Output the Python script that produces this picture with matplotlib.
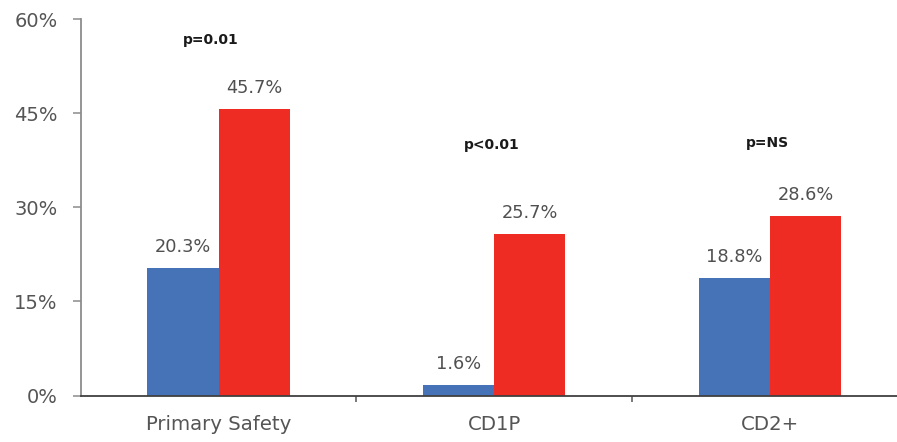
import matplotlib
matplotlib.use("Agg")
import matplotlib.pyplot as plt
import numpy as np

categories = ["Primary Safety", "CD1P", "CD2+"]
series_a = [20.3, 1.6, 18.8]
series_b = [45.7, 25.7, 28.6]
p_labels = ["p=0.01", "p<0.01", "p=NS"]
p_heights = [56.7, 40.0, 40.3]
yticks = [0, 15, 30, 45, 60]

plt.rcParams['font.family'] = ['DejaVu Sans']

W, H = 897, 442
fig = plt.figure(figsize=(W / 100, H / 100), dpi=100)
left_px, right_px, top_px, bot_px = 80.7, 908, 19, 395.5
ax = fig.add_axes([left_px / W, (H - bot_px) / H, (right_px - left_px) / W, (bot_px - top_px) / H])

x = np.arange(len(categories))
bw = 0.258
blue = "#4672b8"
red = "#ee2c24"
ax.bar(x - bw / 2, series_a, bw, color=blue, zorder=2)
ax.bar(x + bw / 2, series_b, bw, color=red, zorder=2)

txt_col = "#505050"
for xi, v in zip(x - bw / 2, series_a):
    ax.annotate(f"{v:.1f}%", (xi, v), xytext=(0, 11.5), textcoords="offset points",
                ha="center", va="baseline", fontsize=12.8, color=txt_col)
for xi, v in zip(x + bw / 2, series_b):
    ax.annotate(f"{v:.1f}%", (xi, v), xytext=(0, 11.5), textcoords="offset points",
                ha="center", va="baseline", fontsize=12.8, color=txt_col)
offs = [-0.027, -0.01, -0.01]
for xi, lab, h, o in zip(x, p_labels, p_heights, offs):
    ax.text(xi + o, h, lab, ha="center", va="center", fontsize=10,
            fontweight="bold", color="#1a1a1a")

ax.set_xlim(-0.5, 2.5)
ax.set_ylim(0, 60)
ax.set_yticks(yticks)
ax.set_yticklabels([f"{t}%" for t in yticks])
ax.set_xticks(x)
ax.set_xticklabels(categories)
ax.set_xticks([0.5, 1.5], minor=True)

for s in ["top", "right"]:
    ax.spines[s].set_visible(False)
ax.spines["left"].set_color("#8c8c8c")
ax.spines["left"].set_linewidth(1.3)
ax.spines["bottom"].set_color("#404040")
ax.spines["bottom"].set_linewidth(1.3)

ax.tick_params(axis="y", length=5.5, width=1.1, color="#8c8c8c", pad=11,
               labelsize=14, labelcolor="#555555")
ax.tick_params(axis="x", which="major", length=0, pad=14, labelsize=14.2,
               labelcolor="#555555")
ax.tick_params(axis="x", which="minor", length=4, width=1.1, color="#555555")

fig.savefig("out.png", dpi=100)
